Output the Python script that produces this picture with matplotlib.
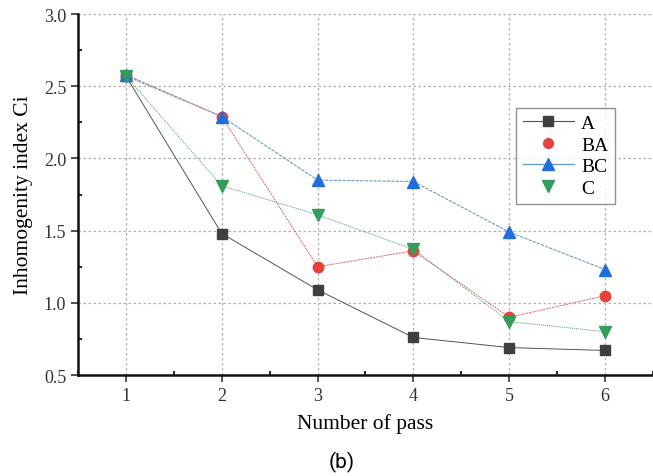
import matplotlib.pyplot as plt
from matplotlib.lines import Line2D
from matplotlib.ticker import MultipleLocator

# Inhomogeneity index per pass for each route
passes = [1, 2, 3, 4, 5, 6]
ci_a = [2.57, 1.48, 1.09, 0.76, 0.69, 0.67]
ci_ba = [2.57, 2.29, 1.25, 1.36, 0.90, 1.05]
ci_bc = [2.58, 2.29, 1.85, 1.84, 1.49, 1.23]
ci_c = [2.57, 1.81, 1.61, 1.37, 0.87, 0.80]

plt.rcParams['font.family'] = ['Liberation Serif', 'DejaVu Serif']

fig = plt.figure(figsize=(6.53, 4.77), dpi=100)
ax = fig.add_axes([0.1194, 0.2117, 0.8806, 0.7568])

ax.plot(passes, ci_a, color='#555555', lw=0.7, marker='s', ms=7,
        mfc='#3f3f3f', mec='#3f3f3f', zorder=3)
ax.plot(passes, ci_ba, color='#e06060', lw=0.7, ls=(0, (2, 1)), marker='o', ms=7.5,
        mfc='#e8403a', mec='#e8403a', zorder=3)
ax.plot(passes, ci_bc, color='#6f9cc4', lw=0.8, ls=(0, (3, 1)), marker='^', ms=8.5,
        mfc='#1f6ee0', mec='#1f6ee0', zorder=3)
ax.plot(passes, ci_c, color='#4aa070', lw=0.7, ls=(0, (1, 1)), marker='v', ms=8.5,
        mfc='#2f9e5a', mec='#2f9e5a', zorder=3)

ax.set_xlim(0.5, 6.5)
ax.set_ylim(0.5, 3.0)
ax.xaxis.set_major_locator(MultipleLocator(1))
ax.xaxis.set_minor_locator(MultipleLocator(0.5))
ax.yaxis.set_major_locator(MultipleLocator(0.5))
ax.yaxis.set_minor_locator(MultipleLocator(0.25))
ax.tick_params(which='major', direction='out', length=5, width=1.2, labelsize=13, colors='#333333')
ax.tick_params(which='minor', direction='in', length=3, width=1.2)

ax.grid(True, which='major', ls=(0, (2, 2)), color='#b0b0b0', lw=0.9)
ax.set_axisbelow(True)
for side in ['top', 'right']:
    ax.spines[side].set_visible(False)
for side in ['left', 'bottom']:
    ax.spines[side].set_linewidth(1.8)
    ax.spines[side].set_color('#111111')

ax.set_xlabel('Number of pass', fontsize=15.5, labelpad=7)
ax.set_ylabel('Inhomogenity index Ci', fontsize=15.5, labelpad=8)

handles = [
    Line2D([], [], color='#555555', lw=0.8, marker='s', ms=6.5, mfc='#3f3f3f', mec='#3f3f3f'),
    Line2D([], [], ls='none', marker='o', ms=7, mfc='#e8403a', mec='#e8403a'),
    Line2D([], [], color='#6f9cc4', lw=1.0, marker='^', ms=8, mfc='#1f6ee0', mec='#1f6ee0'),
    Line2D([], [], ls='none', marker='v', ms=8, mfc='#2f9e5a', mec='#2f9e5a'),
]
leg = ax.legend(handles, ['A', 'BA', 'BC', 'C'], loc='upper left',
                bbox_to_anchor=(0.762, 0.74), borderaxespad=0, fontsize=14, frameon=True,
                fancybox=False, shadow=False, handlelength=2.6, labelspacing=0.2,
                borderpad=0.35, handletextpad=0.4, edgecolor='#777777')
leg.get_frame().set_linewidth(1.0)

fig.text(0.524, 0.03, '(b)', fontsize=15, family='Roboto', ha='center', va='center')

fig.savefig('out.png', dpi=100)
